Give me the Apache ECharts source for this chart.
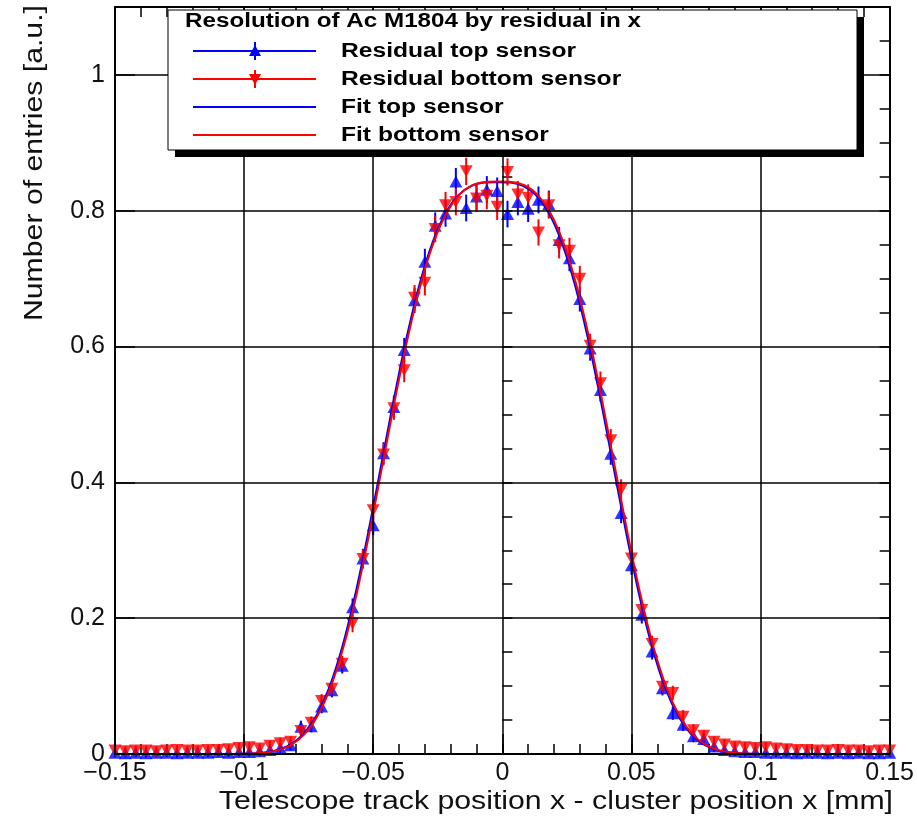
<!DOCTYPE html>
<html>
<head>
<meta charset="utf-8">
<script src="https://cdn.jsdelivr.net/npm/echarts@6/dist/echarts.min.js"></script>
<style>
html,body{margin:0;padding:0;background:#fff;}
#chart{width:917px;height:819px;}
</style>
</head>
<body>
<div id="chart"></div>
<script>
// ---- data ----
const binCenters = [-0.150,-0.146,-0.142,-0.138,-0.134,-0.130,-0.126,-0.122,-0.118,-0.114,-0.110,-0.106,-0.102,-0.098,-0.094,-0.090,
  -0.086,-0.082,-0.078,-0.074,-0.070,-0.066,-0.062,-0.058,-0.054,-0.050,-0.046,-0.042,-0.038,-0.034,-0.030,-0.026,
  -0.022,-0.018,-0.014,-0.010,-0.006,-0.002,0.002,0.006,0.010,0.014,0.018,0.022,0.026,0.030,0.034,0.038,
  0.042,0.046,0.050,0.054,0.058,0.062,0.066,0.070,0.074,0.078,0.082,0.086,0.090,0.094,0.098,0.102,
  0.106,0.110,0.114,0.118,0.122,0.126,0.130,0.134,0.138,0.142,0.146,0.150];

const residualTop = [0.002,0.001,0.002,0.001,0.002,0.002,0.001,0.002,0.002,0.002,0.003,0.002,0.003,0.003,0.004,0.006,
  0.009,0.013,0.040,0.041,0.070,0.094,0.130,0.216,0.288,0.337,0.443,0.511,0.595,0.668,0.725,0.778,
  0.796,0.843,0.804,0.821,0.831,0.829,0.795,0.813,0.803,0.816,0.810,0.757,0.730,0.670,0.597,0.536,
  0.442,0.355,0.278,0.205,0.151,0.097,0.060,0.043,0.026,0.022,0.011,0.006,0.004,0.003,0.003,0.002,
  0.002,0.002,0.001,0.002,0.002,0.001,0.002,0.001,0.002,0.001,0.001,0.002];

const residualBottom = [0.005,0.004,0.005,0.005,0.004,0.005,0.006,0.005,0.005,0.006,0.006,0.007,0.009,0.010,0.008,0.012,
  0.016,0.018,0.034,0.046,0.078,0.096,0.133,0.192,0.287,0.359,0.441,0.509,0.565,0.672,0.694,0.773,
  0.808,0.813,0.858,0.818,0.822,0.806,0.857,0.824,0.819,0.768,0.808,0.749,0.741,0.700,0.601,0.546,
  0.462,0.389,0.288,0.212,0.162,0.099,0.090,0.055,0.035,0.027,0.018,0.014,0.011,0.010,0.009,0.010,
  0.008,0.007,0.006,0.006,0.005,0.005,0.006,0.005,0.005,0.004,0.005,0.005];

const fitTopX = [-0.150,-0.112,-0.102,-0.097,-0.092,-0.087,-0.082,-0.077,-0.072,-0.067,-0.062,-0.057,-0.052,-0.047,-0.042,-0.037,-0.032,-0.027,-0.022,-0.017,-0.012,-0.007,-0.002,
  0.003,0.008,0.013,0.018,0.023,0.028,0.033,0.038,0.043,0.048,0.053,0.058,0.063,0.068,0.073,0.078,0.083,0.088,0.093,0.098,0.108,0.150];
const fitTopY = [0,0,0.0002,0.0008,0.0023,0.0061,0.0141,0.0296,0.0565,0.0983,0.1576,0.2342,0.3249,0.4237,0.5227,0.6144,0.6925,0.7535,0.7965,0.8230,0.8366,0.8414,0.842,
  0.8414,0.8366,0.8230,0.7965,0.7535,0.6925,0.6144,0.5227,0.4237,0.3249,0.2342,0.1576,0.0983,0.0565,0.0296,0.0141,0.0061,0.0023,0.0008,0.0002,0,0];

const fitBottomX = [-0.150,-0.1115,-0.1015,-0.0965,-0.0915,-0.0865,-0.0815,-0.0765,-0.0715,-0.0665,-0.0615,-0.0565,-0.0515,-0.0465,-0.0415,-0.0365,-0.0315,-0.0265,-0.0215,-0.0165,-0.0115,-0.0065,-0.0015,
  0.0035,0.0085,0.0135,0.0185,0.0235,0.0285,0.0335,0.0385,0.0435,0.0485,0.0535,0.0585,0.0635,0.0685,0.0735,0.0785,0.0835,0.0885,0.0935,0.0985,0.1085,0.150];
const fitBottomY = [0,0,0.0002,0.0008,0.0023,0.0061,0.0141,0.0296,0.0566,0.0984,0.1578,0.2345,0.3253,0.4242,0.5233,0.6151,0.6933,0.7544,0.7974,0.8240,0.8376,0.8424,0.843,
  0.8424,0.8376,0.8240,0.7974,0.7544,0.6933,0.6151,0.5233,0.4242,0.3253,0.2345,0.1578,0.0984,0.0566,0.0296,0.0141,0.0061,0.0023,0.0008,0.0002,0,0];

const xTickLabels = ['-0.15','-0.1','-0.05','0','0.05','0.1','0.15'];
const yTickLabels = ['0','0.2','0.4','0.6','0.8','1'];

const legendTitle = 'Resolution of Ac M1804 by residual in x';
const legendNames = ['Residual top sensor','Residual bottom sensor','Fit top sensor','Fit bottom sensor'];
const xTitle = 'Telescope track position x - cluster position x [mm]';
const yTitle = 'Number of entries [a.u.]';

// statistical (sqrt-like) error bar size for a bin content
function binError(v){ return 0.006 + 0.014*Math.sqrt(Math.max(v,0)/0.84); }

// ---- chart ----
const FONT = "'Liberation Sans', Arial, Helvetica, sans-serif";
const BLUE = '#0000ff', RED = '#ff0000';
const chart = echarts.init(document.getElementById('chart'), null, {renderer:'canvas'});

function pairs(xs, ys){ return xs.map((x,i)=>[x, ys[i]]); }
function fmtX(v){
  const s = (Math.abs(v) < 1e-9) ? '0' : String(+v.toFixed(3));
  const idx = xTickLabels.indexOf(s);
  return idx < 0 ? '' : xTickLabels[idx].replace('-', '\u2212');
}
function fmtY(v){
  const s = (Math.abs(v) < 1e-9) ? '0' : String(+v.toFixed(3));
  return yTickLabels.indexOf(s) < 0 ? '' : s;
}

function errSeries(vals, color){
  return {
    type:'custom', xAxisIndex:0, yAxisIndex:0, silent:true,
    data: binCenters.map((x,i)=>[x, vals[i]]),
    renderItem: function(params, api){
      const x = api.value(0), v = api.value(1), e = binError(v);
      const p1 = api.coord([x, v - e]), p2 = api.coord([x, v + e]);
      return {type:'line', shape:{x1:p1[0], y1:p1[1], x2:p2[0], y2:p2[1]},
        style:{stroke:color, lineWidth:2}};
    },
    z:2
  };
}

const gridL = 115, gridR = 917-893, gridT = 7, gridB = 819-754;

const option = {
  backgroundColor:'#fff',
  animation:false,
  grid:{left:gridL, right:gridR, top:gridT, bottom:gridB, containLabel:false},
  xAxis:[
    {type:'value', position:'bottom', min:-0.15, max:0.15, interval:0.05,
      axisLine:{show:true, onZero:false, lineStyle:{color:'#000', width:2}},
      axisTick:{show:true, inside:true, length:20, lineStyle:{color:'#000', width:1.5}},
      axisLabel:{show:true, formatter:fmtX, color:'#111', fontFamily:FONT, fontSize:25, margin:7},
      splitLine:{show:true, lineStyle:{color:'#000', width:1.5}}, z:5},
    {type:'value', position:'bottom', min:-0.15, max:0.15, interval:0.01,
      axisLine:{show:false}, axisLabel:{show:false}, splitLine:{show:false},
      axisTick:{show:true, inside:true, length:10, lineStyle:{color:'#000', width:1.5}}},
    {type:'value', position:'top', min:-0.15, max:0.15, interval:0.01,
      axisLine:{show:true, onZero:false, lineStyle:{color:'#000', width:2}}, axisLabel:{show:false}, splitLine:{show:false},
      axisTick:{show:true, inside:true, length:10, lineStyle:{color:'#000', width:1.5}}}
  ],
  yAxis:[
    {type:'value', position:'left', min:0, max:1.1, interval:0.2,
      axisLine:{show:true, onZero:false, lineStyle:{color:'#000', width:2}},
      axisTick:{show:true, inside:true, length:20, lineStyle:{color:'#000', width:1.5}},
      axisLabel:{show:true, formatter:fmtY, color:'#111', fontFamily:FONT, fontSize:25, margin:10},
      splitLine:{show:true, lineStyle:{color:'#000', width:1.5}}, z:5},
    {type:'value', position:'left', min:0, max:1.1, interval:0.05,
      axisLine:{show:false}, axisLabel:{show:false}, splitLine:{show:false},
      axisTick:{show:true, inside:true, length:10, lineStyle:{color:'#000', width:1.5}}},
    {type:'value', position:'right', min:0, max:1.1, interval:0.05,
      axisLine:{show:true, onZero:false, lineStyle:{color:'#000', width:2}}, axisLabel:{show:false}, splitLine:{show:false},
      axisTick:{show:true, inside:true, length:10, lineStyle:{color:'#000', width:1.5}}}
  ],
  series:[
    errSeries(residualTop, BLUE),
    {name:legendNames[0], type:'scatter', xAxisIndex:0, yAxisIndex:0,
      data: pairs(binCenters, residualTop), symbol:'triangle', symbolSize:[13,12],
      itemStyle:{color:BLUE}, silent:true, z:3},
    errSeries(residualBottom, RED),
    {name:legendNames[1], type:'scatter', xAxisIndex:0, yAxisIndex:0,
      data: pairs(binCenters, residualBottom), symbol:'triangle', symbolRotate:180, symbolSize:[13,12],
      itemStyle:{color:RED}, silent:true, z:3},
    {name:legendNames[2], type:'line', xAxisIndex:0, yAxisIndex:0,
      data: pairs(fitTopX, fitTopY), showSymbol:false, smooth:0.3,
      lineStyle:{color:BLUE, width:2}, silent:true, z:4},
    {name:legendNames[3], type:'line', xAxisIndex:0, yAxisIndex:0,
      data: pairs(fitBottomX, fitBottomY), showSymbol:false, smooth:0.3,
      lineStyle:{color:RED, width:2}, silent:true, z:4}
  ],
  graphic:[]
};

// legend box (ROOT TLegend style with shadow)
const lg = {x:168, y:10, w:689, h:140};
const rowsY = [51, 79, 107, 135];
const g = [];
g.push({type:'rect', shape:{x:lg.x+7, y:lg.y+7, width:lg.w, height:lg.h}, style:{fill:'#000'}, z:100});
g.push({type:'rect', shape:{x:lg.x, y:lg.y, width:lg.w, height:lg.h}, style:{fill:'#fff', stroke:'#000', lineWidth:1}, z:101});
g.push({type:'text', x:185, y:21, scaleX:1.21, style:{text:legendTitle, fill:'#000', font:"bold 20px "+FONT, textVerticalAlign:'middle', textAlign:'left'}, z:102});
const legColors = [BLUE, RED, BLUE, RED];
rowsY.forEach((yy, i)=>{
  g.push({type:'line', shape:{x1:193, y1:yy, x2:316, y2:yy}, style:{stroke:legColors[i], lineWidth:2}, z:102});
  if (i === 0){
    g.push({type:'line', shape:{x1:255, y1:yy-9, x2:255, y2:yy+9}, style:{stroke:BLUE, lineWidth:2}, z:102});
    g.push({type:'polygon', shape:{points:[[255,yy-6],[261,yy+5],[249,yy+5]]}, style:{fill:BLUE}, z:103});
  } else if (i === 1){
    g.push({type:'line', shape:{x1:255, y1:yy-9, x2:255, y2:yy+9}, style:{stroke:RED, lineWidth:2}, z:102});
    g.push({type:'polygon', shape:{points:[[249,yy-5],[261,yy-5],[255,yy+6]]}, style:{fill:RED}, z:103});
  }
  g.push({type:'text', x:341, y:yy, scaleX:1.23, style:{text:legendNames[i], fill:'#000', font:"bold 20px "+FONT, textVerticalAlign:'middle', textAlign:'left'}, z:102});
});
// axis titles
g.push({type:'text', x:893, y:802, scaleX:1.21, style:{text:xTitle, fill:'#111', font:"25px "+FONT, textAlign:'right', textVerticalAlign:'middle'}, z:50});
g.push({type:'text', x:35, y:5, rotation:Math.PI/2, scaleX:1.21, style:{text:yTitle, fill:'#111', font:"25px "+FONT, textAlign:'right', textVerticalAlign:'middle'}, z:50});
option.graphic = g;

chart.setOption(option);
</script>
</body>
</html>
